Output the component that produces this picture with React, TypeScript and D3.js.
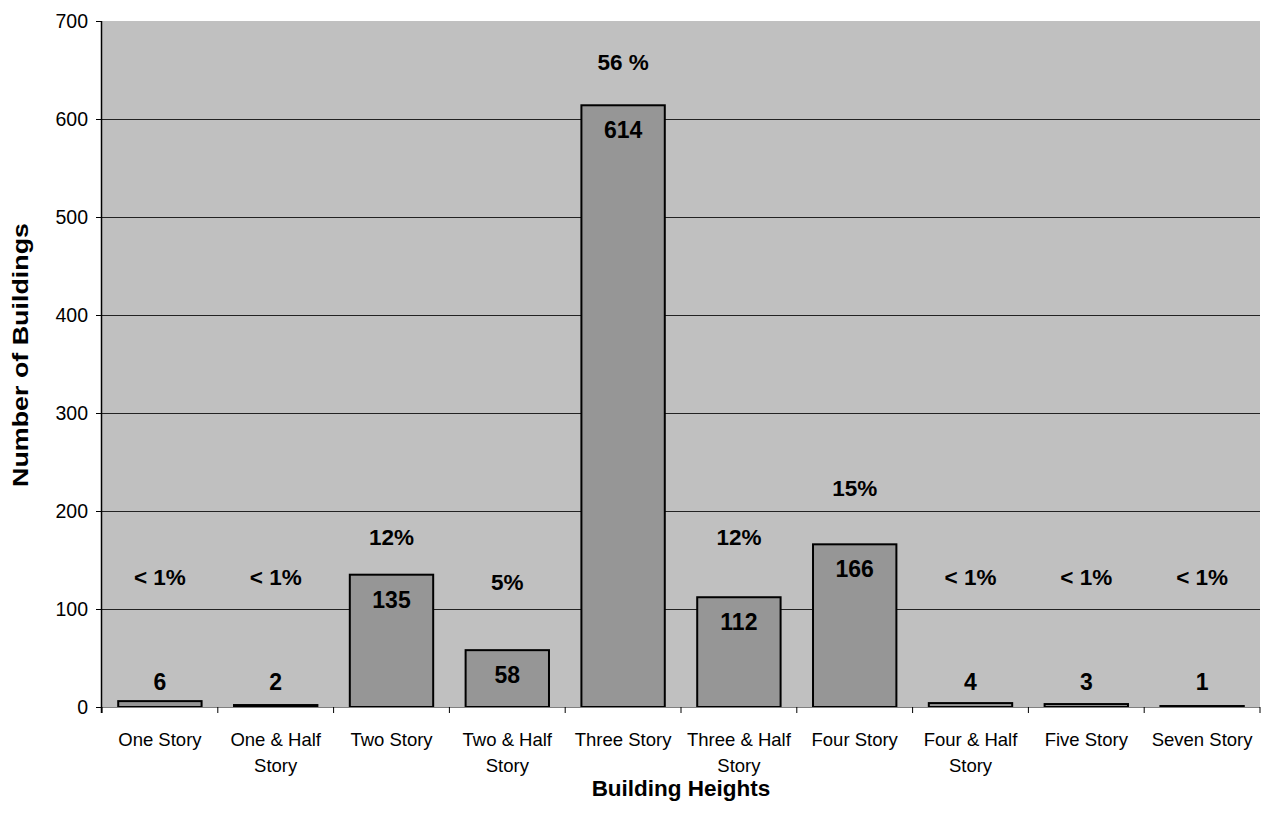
import React from "react";
import * as d3 from "d3";

const categories = [
  ["One Story"],
  ["One & Half", "Story"],
  ["Two Story"],
  ["Two & Half", "Story"],
  ["Three Story"],
  ["Three & Half", "Story"],
  ["Four Story"],
  ["Four & Half", "Story"],
  ["Five Story"],
  ["Seven Story"],
];
const values = [6, 2, 135, 58, 614, 112, 166, 4, 3, 1];
const percentLabels = ["< 1%", "< 1%", "12%", "5%", "56 %", "12%", "15%", "< 1%", "< 1%", "< 1%"];
// vertical anchor of each percentage label, in data units
const percentAnchors = [133, 133, 173.5, 128, 658, 173.5, 223.5, 133, 133, 133];
const yTicks = [0, 100, 200, 300, 400, 500, 600, 700];

const W = 1264;
const H = 827;
const left = 102;
const right = 1260;
const top = 21;
const bottom = 707;
const FONT = "Arial, 'Liberation Sans', sans-serif";

export default function App() {
  const idx = categories.map((_, i) => String(i));
  const x = d3.scaleBand<string>().domain(idx).range([left, right]).paddingInner(0.28).paddingOuter(0.14);
  const y = d3.scaleLinear().domain([0, 700]).range([bottom, top]);
  const step = (right - left) / categories.length;

  return (
    <svg width={W} height={H} style={{ position: "absolute", left: 0, top: 0 }} fontFamily={FONT}>
      <rect x={left} y={top} width={right - left} height={bottom - top} fill="#c0c0c0" />
      {yTicks.filter((t) => t > 0 && t < 700).map((t) => (
        <line key={t} x1={left} x2={right} y1={Math.round(y(t)) + 0.5} y2={Math.round(y(t)) + 0.5} stroke="#222" strokeWidth={1} />
      ))}
      {values.map((v, i) => {
        const bx = x(String(i))!;
        const bw = x.bandwidth();
        const by = y(v);
        return (
          <rect key={i} x={bx} y={by} width={bw} height={y(0) - by} fill="#969696" stroke="#000" strokeWidth={2} />
        );
      })}
      {/* x axis */}
      <line x1={left} x2={right} y1={bottom + 0.5} y2={bottom + 0.5} stroke="#808080" strokeWidth={1} />
      {d3.range(categories.length + 1).map((k) => (
        <line key={k} x1={left + k * step} x2={left + k * step} y1={bottom} y2={bottom + 6} stroke="#000" strokeWidth={1} />
      ))}
      {/* y axis */}
      <line x1={left - 0.5} x2={left - 0.5} y1={top} y2={bottom + 6} stroke="#000" strokeWidth={1.5} />
      {yTicks.map((t) => (
        <g key={t}>
          <line x1={left - 6} x2={left} y1={Math.round(y(t)) + 0.5} y2={Math.round(y(t)) + 0.5} stroke="#000" strokeWidth={1} />
          <text x={left - 14} y={y(t) + 7} textAnchor="end" fontSize={19.5} fill="#000">{t}</text>
        </g>
      ))}
      {/* value labels */}
      {values.map((v, i) => {
        const cx = x(String(i))! + x.bandwidth() / 2;
        const cy = v < 30 ? y(0) - 25 : y(v) + 25;
        return (
          <text key={i} x={cx} y={cy + 8} textAnchor="middle" fontSize={23} fontWeight="bold" fill="#000">{v}</text>
        );
      })}
      {/* percentage labels */}
      {percentLabels.map((p, i) => {
        const cx = x(String(i))! + x.bandwidth() / 2;
        return (
          <text key={i} x={cx} y={y(percentAnchors[i]) + 8} textAnchor="middle" fontSize={22.5} fontWeight="bold" fill="#000">{p}</text>
        );
      })}
      {/* category labels */}
      {categories.map((lines, i) => {
        const cx = x(String(i))! + x.bandwidth() / 2;
        return (
          <text key={i} x={cx} textAnchor="middle" fontSize={18.5} fill="#000">
            {lines.map((l, j) => (
              <tspan key={j} x={cx} y={746 + j * 26}>{l}</tspan>
            ))}
          </text>
        );
      })}
      <text x={(left + right) / 2} y={796} textAnchor="middle" fontSize={22.5} fontWeight="bold">Building Heights</text>
      <text
        transform={`translate(28, 355) rotate(-90)`}
        textAnchor="middle"
        fontSize={22}
        fontWeight="bold"
        textLength={264}
        lengthAdjust="spacingAndGlyphs"
      >
        Number of Buildings
      </text>
    </svg>
  );
}
